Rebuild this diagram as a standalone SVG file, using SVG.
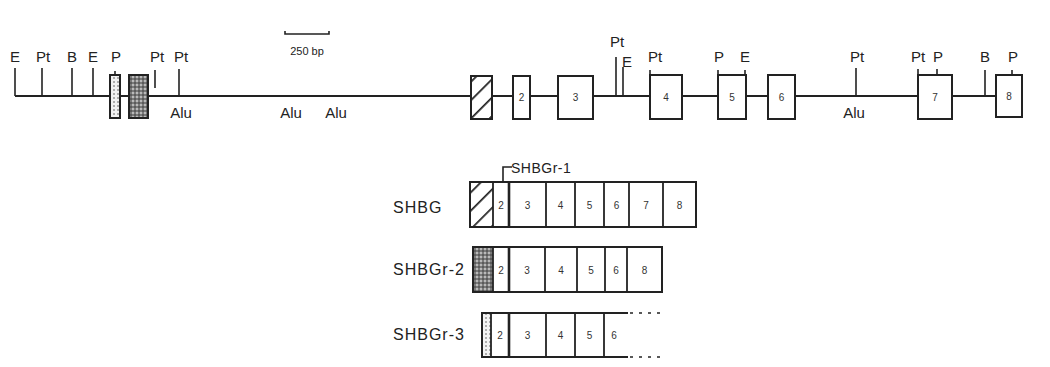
<svg xmlns="http://www.w3.org/2000/svg" width="1050" height="367" viewBox="0 0 1050 367">
<style>
text{font-family:"Liberation Sans",Arial,sans-serif;fill:#222}
.lbl{font-size:15px;text-anchor:middle}
.num{font-size:10px;text-anchor:middle;fill:#333}
.tr{font-size:16px;text-anchor:start;letter-spacing:1px}
.bx{fill:#fff;stroke:#222;stroke-width:2}
.tk{stroke:#222;stroke-width:1.6;fill:none}
.ln{stroke:#222;stroke-width:2;fill:none}
.sep{stroke:#222;stroke-width:1.8}
</style>
<defs>
<pattern id="hatch" width="13" height="13" patternUnits="userSpaceOnUse" patternTransform="rotate(45)">
<rect width="13" height="13" fill="#fff"/>
<line x1="0" y1="0" x2="0" y2="13" stroke="#222" stroke-width="3.5"/>
</pattern>
<pattern id="dark" width="4" height="4" patternUnits="userSpaceOnUse">
<rect width="4" height="4" fill="#7a7a7a"/>
<circle cx="1" cy="1" r="0.9" fill="#d8d8d8"/>
<circle cx="3" cy="3" r="0.8" fill="#333"/>
</pattern>
<pattern id="light" width="4" height="4" patternUnits="userSpaceOnUse">
<rect width="4" height="4" fill="#f2f2f2"/>
<circle cx="2" cy="2" r="0.8" fill="#555"/>
</pattern>
</defs>
<rect width="1050" height="367" fill="#fff"/>

<g id="connectors">
<line class="ln" x1="15" y1="96" x2="997" y2="96"/>
</g>

<g id="scale-bar">
<path class="tk" d="M285 31 V34 H329 V31"/>
<text x="307" y="55" style="font-size:11px;text-anchor:middle">250 bp</text>
</g>

<g id="sites">
<line class="tk" x1="15" y1="68" x2="15" y2="96"/><text class="lbl" x="15" y="62">E</text>
<line class="tk" x1="42" y1="68" x2="42" y2="96"/><text class="lbl" x="43" y="62">Pt</text>
<line class="tk" x1="72" y1="68" x2="72" y2="96"/><text class="lbl" x="72" y="62">B</text>
<line class="tk" x1="93" y1="68" x2="93" y2="96"/><text class="lbl" x="93" y="62">E</text>
<line class="tk" x1="115" y1="71" x2="115" y2="75"/><text class="lbl" x="116" y="62">P</text>
<line class="tk" x1="155" y1="70" x2="155" y2="88"/><text class="lbl" x="157" y="62">Pt</text>
<line class="tk" x1="179" y1="69" x2="179" y2="96"/><text class="lbl" x="181" y="62">Pt</text>
<line class="tk" x1="616" y1="57" x2="616" y2="96"/><text class="lbl" x="617" y="47">Pt</text>
<line class="tk" x1="623" y1="67" x2="623" y2="96"/><text class="lbl" x="627" y="67">E</text>
<line class="tk" x1="650" y1="70" x2="650" y2="75"/><text class="lbl" x="655" y="62">Pt</text>
<line class="tk" x1="718" y1="70" x2="718" y2="75"/><text class="lbl" x="719" y="62">P</text>
<line class="tk" x1="745" y1="70" x2="745" y2="75"/><text class="lbl" x="745" y="62">E</text>
<line class="tk" x1="856" y1="68" x2="856" y2="96"/><text class="lbl" x="857" y="62">Pt</text>
<line class="tk" x1="918" y1="69" x2="918" y2="75"/><text class="lbl" x="918" y="62">Pt</text>
<line class="tk" x1="937" y1="69" x2="937" y2="75"/><text class="lbl" x="938" y="62">P</text>
<line class="tk" x1="985" y1="70" x2="985" y2="96"/><text class="lbl" x="985" y="62">B</text>
<line class="tk" x1="1012" y1="70" x2="1012" y2="75"/><text class="lbl" x="1013" y="62">P</text>
</g>

<g id="alu">
<text class="lbl" x="181" y="118">Alu</text>
<text class="lbl" x="291" y="118">Alu</text>
<text class="lbl" x="336" y="118">Alu</text>
<text class="lbl" x="854" y="118">Alu</text>
</g>

<g id="gene-exons">
<g id="exon-r3"><rect class="bx" x="110" y="75" width="10" height="43" style="fill:url(#light)"/></g>
<g id="exon-r2"><rect class="bx" x="129" y="75" width="19" height="43" style="fill:url(#dark)"/></g>
<g id="exon-1"><rect class="bx" x="471" y="76" width="21" height="43" style="fill:url(#hatch)"/></g>
<g id="exon-2"><rect class="bx" x="513" y="76" width="17" height="43"/><text class="num" x="521.5" y="101">2</text></g>
<g id="exon-3"><rect class="bx" x="558" y="76" width="35" height="43"/><text class="num" x="575.5" y="101">3</text></g>
<g id="exon-4"><rect class="bx" x="650" y="75" width="32" height="44"/><text class="num" x="666" y="101">4</text></g>
<g id="exon-5"><rect class="bx" x="718" y="75" width="28" height="44"/><text class="num" x="732" y="101">5</text></g>
<g id="exon-6"><rect class="bx" x="768" y="75" width="27" height="44"/><text class="num" x="781.5" y="101">6</text></g>
<g id="exon-7"><rect class="bx" x="918" y="75" width="34" height="44"/><text class="num" x="935" y="101">7</text></g>
<g id="exon-8"><rect class="bx" x="996" y="75" width="26" height="42"/><text class="num" x="1009" y="100">8</text></g>
</g>

<g id="SHBG">
<text class="tr" x="393" y="213">SHBG</text>
<rect class="bx" x="470" y="182" width="226" height="45"/>
<rect x="471" y="183" width="22" height="43" fill="url(#hatch)"/>
<line class="sep" x1="493" y1="182" x2="493" y2="227"/>
<line class="sep" x1="509" y1="182" x2="509" y2="227" style="stroke-width:2.6"/>
<line class="sep" x1="546" y1="182" x2="546" y2="227"/>
<line class="sep" x1="575" y1="182" x2="575" y2="227"/>
<line class="sep" x1="604" y1="182" x2="604" y2="227"/>
<line class="sep" x1="629" y1="182" x2="629" y2="227"/>
<line class="sep" x1="663" y1="182" x2="663" y2="227"/>
<text class="num" x="501" y="209">2</text>
<text class="num" x="527.5" y="209">3</text>
<text class="num" x="560.5" y="209">4</text>
<text class="num" x="589.5" y="209">5</text>
<text class="num" x="616.5" y="209">6</text>
<text class="num" x="646" y="209">7</text>
<text class="num" x="679.5" y="209">8</text>
</g>

<g id="SHBGr-1">
<path class="tk" d="M512 167 H503 V182"/>
<text x="511" y="173" style="font-size:14px;letter-spacing:0.5px">SHBGr-1</text>
</g>

<g id="SHBGr-2">
<text class="tr" x="393" y="275">SHBGr-2</text>
<rect class="bx" x="473" y="247" width="189" height="45"/>
<rect x="474" y="248" width="19" height="43" fill="url(#dark)"/>
<line class="sep" x1="493" y1="247" x2="493" y2="292"/>
<line class="sep" x1="509" y1="247" x2="509" y2="292" style="stroke-width:2.6"/>
<line class="sep" x1="545" y1="247" x2="545" y2="292"/>
<line class="sep" x1="577" y1="247" x2="577" y2="292"/>
<line class="sep" x1="605" y1="247" x2="605" y2="292"/>
<line class="sep" x1="627" y1="247" x2="627" y2="292"/>
<text class="num" x="501" y="274">2</text>
<text class="num" x="527" y="274">3</text>
<text class="num" x="561" y="274">4</text>
<text class="num" x="591" y="274">5</text>
<text class="num" x="616" y="274">6</text>
<text class="num" x="644.5" y="274">8</text>
</g>

<g id="SHBGr-3">
<text class="tr" x="393" y="340">SHBGr-3</text>
<rect x="483" y="314" width="8" height="42" fill="url(#light)"/>
<path class="ln" d="M628 313 H482 V357 H628"/>
<path class="ln" d="M630 313 H660 M630 357 H660" style="stroke-dasharray:3 6;stroke-width:1.6"/>
<line class="sep" x1="491" y1="313" x2="491" y2="357"/>
<line class="sep" x1="509" y1="313" x2="509" y2="357" style="stroke-width:2.6"/>
<line class="sep" x1="546" y1="313" x2="546" y2="357"/>
<line class="sep" x1="575" y1="313" x2="575" y2="357"/>
<line class="sep" x1="604" y1="313" x2="604" y2="357"/>
<text class="num" x="500" y="339">2</text>
<text class="num" x="527.5" y="339">3</text>
<text class="num" x="560.5" y="339">4</text>
<text class="num" x="589.5" y="339">5</text>
<text class="num" x="614" y="339">6</text>
</g>
</svg>
